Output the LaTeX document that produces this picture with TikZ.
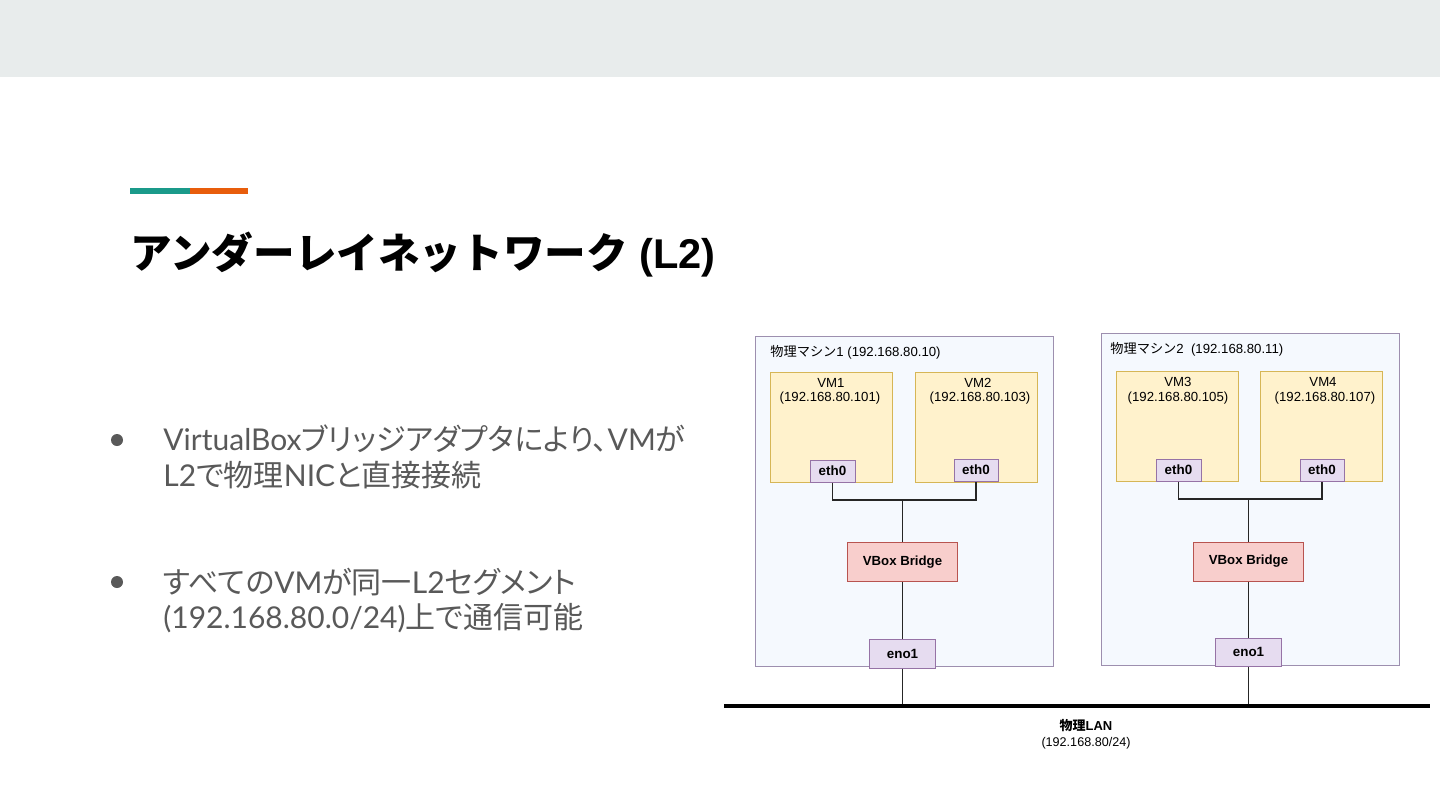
\documentclass[tikz,border=0pt]{standalone}
\usepackage{fontspec}
\setmainfont{Liberation Sans}
\newfontfamily\cjk{Noto Sans CJK JP}
\newfontfamily\cjkp[RawFeature=+palt]{Noto Sans CJK JP}
\newfontfamily\lato{Lato}
\definecolor{band}{HTML}{E8ECEC}
\definecolor{accA}{HTML}{1A9A8A}
\definecolor{accB}{HTML}{E85D0C}
\definecolor{bodytxt}{HTML}{595959}
\definecolor{mfill}{HTML}{F5F9FE}
\definecolor{mline}{HTML}{9D8FAF}
\definecolor{vmfill}{HTML}{FFF2CC}
\definecolor{vmline}{HTML}{D6B656}
\definecolor{nicfill}{HTML}{E6DCF0}
\definecolor{nicline}{HTML}{9673A6}
\definecolor{brfill}{HTML}{F8CECC}
\definecolor{brline}{HTML}{B85450}
\begin{document}
\begin{tikzpicture}[x=0.5pt,y=-0.5pt,
  box/.style={draw,rectangle,inner sep=0pt,line width=0.5pt},
  machine/.style={box,fill=mfill,draw=mline},
  vmbox/.style={box,fill=vmfill,draw=vmline,minimum width=61pt,minimum height=55pt},
  nic/.style={box,fill=nicfill,draw=nicline,font=\fontsize{6.7}{8}\selectfont\bfseries},
  bridge/.style={box,fill=brfill,draw=brline,minimum width=55pt,minimum height=19.5pt,font=\fontsize{6.6}{8}\selectfont\bfseries},
  small/.style={inner sep=0pt,font=\fontsize{6.6}{8}\selectfont},
  wire/.style={draw=black!85,line width=0.6pt},
  bul/.style={inner sep=0pt,anchor=base west,text=bodytxt,font=\fontsize{15}{17}\selectfont}]
\useasboundingbox (0,0) rectangle (1440,810);
\fill[white] (0,0) rectangle (1440,810);
\fill[band] (0,0) rectangle (1440,77);
\fill[accA] (130,188) rectangle (190,194);
\fill[accB] (190,188) rectangle (248,194);
\node[inner sep=0pt,anchor=base west,font=\fontsize{20.8}{25}\selectfont] (title) at (130,268) {{\cjk\bfseries アンダーレイネットワーク} {\bfseries (L2)}};
% bullets
\fill[bodytxt] (117,440) circle (6);
\fill[bodytxt] (117,582) circle (6);
\node[bul] (b1a) at (163,450) {{\lato VirtualBox}{\cjkp ブリッジアダプタにより、}{\lato VM}{\cjkp が}};
\node[bul] (b1b) at (163,486) {{\lato L2}{\cjkp で物理}{\lato NIC}{\cjkp と直接接続}};
\node[bul] (b2a) at (163,593) {{\cjkp すべての}{\lato VM}{\cjkp が同一}{\lato L2}{\cjkp セグメント}};
\node[bul] (b2b) at (163,628) {{\lato (192.168.80.0/24)}{\cjkp 上で通信可能}};
% machines
\node[machine,minimum width=149pt,minimum height=165pt] (m1) at (904,501) {};
\node[machine,minimum width=149pt,minimum height=166pt] (m2) at (1250,499) {};
\node[small,anchor=west] (m1l) at (770,352) {{\cjk 物理マシン}1 (192.168.80.10)};
\node[small,anchor=west] (m2l) at (1110,349) {{\cjk 物理マシン}2\ \ (192.168.80.11)};
% VMs
\node[vmbox] (vm1) at (831,427) {};
\node[vmbox] (vm2) at (976,427) {};
\node[vmbox] (vm3) at (1177.5,426.5) {};
\node[vmbox] (vm4) at (1321.5,426.5) {};
\node[small] (vm1n) at (831,383) {VM1};
\node[small] (vm1i) at (830,398) {(192.168.80.101)};
\node[small] (vm2n) at (978,383) {VM2};
\node[small] (vm2i) at (980,398) {(192.168.80.103)};
\node[small] (vm3n) at (1178,382) {VM3};
\node[small] (vm3i) at (1178,398) {(192.168.80.105)};
\node[small] (vm4n) at (1323,382) {VM4};
\node[small] (vm4i) at (1325,398) {(192.168.80.107)};
% NICs
\node[nic,minimum width=22.5pt,minimum height=11pt] (e1) at (832.5,471) {eth0};
\node[nic,minimum width=22pt,minimum height=11pt] (e2) at (976,470) {eth0};
\node[nic,minimum width=22.5pt,minimum height=11pt] (e3) at (1178.5,470) {eth0};
\node[nic,minimum width=22pt,minimum height=11pt] (e4) at (1322,470) {eth0};
% bridges
\node[bridge] (br1) at (902.5,562) {VBox Bridge};
\node[bridge] (br2) at (1248.5,561.5) {VBox Bridge};
% eno1
\node[nic,minimum width=33pt,minimum height=14.5pt] (n1) at (902.5,653.5) {eno1};
\node[nic,minimum width=33pt,minimum height=14pt] (n2) at (1248.5,652) {eno1};
% wires
\coordinate (j1) at (902.5,500);
\coordinate (j2) at (1248.5,499);
\draw[wire] (e1.south) |- (j1) -| (e2.south);
\draw[wire] (j1) -- (br1.north);
\draw[wire] (br1.south) -- (n1.north);
\draw[wire] (e3.south) |- (j2) -| (e4.south);
\draw[wire] (j2) -- (br2.north);
\draw[wire] (br2.south) -- (n2.north);
% LAN
\coordinate (lanL) at (724,706);
\coordinate (lanR) at (1430,706);
\coordinate (t1) at (902.5,706);
\coordinate (t2) at (1248.5,706);
\draw[wire,line width=0.4pt] (n1.south) -- (t1);
\draw[wire,line width=0.4pt] (n2.south) -- (t2);
\draw[black,line width=1.6pt] (lanL) -- (lanR);
\node[inner sep=0pt,font=\fontsize{6.5}{8}\selectfont\bfseries] (lan) at (1086,726) {{\cjk\bfseries 物理}LAN};
\node[inner sep=0pt,font=\fontsize{6.3}{7.5}\selectfont] (lanip) at (1086,743) {(192.168.80/24)};
\end{tikzpicture}
\end{document}
